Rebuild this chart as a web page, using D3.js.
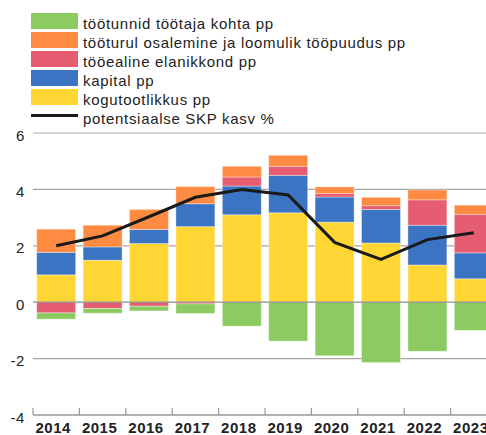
<!DOCTYPE html>
<html>
<head>
<meta charset="utf-8">
<script src="https://cdn.jsdelivr.net/npm/d3@7"></script>
<style>
body { margin: 0; background: #fff; overflow: hidden; }
svg { display: block; font-family: "Liberation Sans", Arial, Helvetica, sans-serif; }
</style>
</head>
<body>
<script>
// data
var years = ["2014","2015","2016","2017","2018","2019","2020","2021","2022","2023"];
var kogutootlikkus = [0.97, 1.49, 2.08, 2.68, 3.10, 3.17, 2.84, 2.10, 1.32, 0.83];
var kapital        = [0.80, 0.47, 0.50, 0.81, 1.02, 1.33, 0.89, 1.19, 1.41, 0.92];
var tooealine      = [-0.38, -0.22, -0.14, -0.06, 0.32, 0.32, 0.12, 0.13, 0.90, 1.37];
var tooturul       = [0.82, 0.77, 0.71, 0.61, 0.38, 0.39, 0.24, 0.30, 0.35, 0.32];
var tootunnid      = [-0.22, -0.17, -0.17, -0.34, -0.85, -1.38, -1.90, -2.14, -1.74, -1.00];
var potentsiaalne  = [2.00, 2.35, 3.03, 3.72, 4.00, 3.80, 2.12, 1.52, 2.22, 2.46];
var yTicks = [-4, -2, 0, 2, 4, 6];

var w = 486;
var h = 435;

var series = [
	{key: "tootunnid", label: "töötunnid töötaja kohta pp", color: "#8dcb62", values: tootunnid},
	{key: "tooturul", label: "tööturul osalemine ja loomulik tööpuudus pp", color: "#ff8b42", values: tooturul},
	{key: "tooealine", label: "tööealine elanikkond pp", color: "#e65c70", values: tooealine},
	{key: "kapital", label: "kapital pp", color: "#3a74c3", values: kapital},
	{key: "kogutootlikkus", label: "kogutootlikkus pp", color: "#ffd634", values: kogutootlikkus}
];

// table for d3.stack
var table = years.map(function(y, i) {
	var row = {year: y};
	series.forEach(function(s) { row[s.key] = s.values[i]; });
	return row;
});

var colorOf = {};
series.forEach(function(s) { colorOf[s.key] = s.color; });

var stack = d3.stack()
	.keys(["kogutootlikkus", "kapital", "tooealine", "tooturul", "tootunnid"])
	.offset(d3.stackOffsetDiverging);
var stacked = stack(table);

var svg = d3.select("body")
	.append("svg")
	.attr("width", w)
	.attr("height", h);

var x_scale = d3.scaleBand()
	.domain(years)
	.range([33, 497])
	.paddingInner(0.16)
	.paddingOuter(0.08);

var y_scale = d3.scaleLinear()
	.domain([-4, 6])
	.range([415, 133]);

// gridlines
svg.append("g")
	.selectAll("line")
	.data(yTicks.filter(function(d) { return d != -4 && d != 0; }))
	.enter()
	.append("line")
	.attr("x1", 33)
	.attr("x2", w)
	.attr("y1", function(d) { return y_scale(d); })
	.attr("y2", function(d) { return y_scale(d); })
	.attr("stroke", function(d) { return d == 6 ? "#c4c4c4" : "#a6a6a6"; })
	.attr("stroke-width", 1.3);

// y tick labels
svg.append("g")
	.selectAll("text")
	.data(yTicks)
	.enter()
	.append("text")
	.attr("x", 25)
	.attr("y", function(d) { return y_scale(d) + 7.5; })
	.attr("text-anchor", "end")
	.style("font-size", "15px")
	.style("letter-spacing", "0.6px")
	.attr("fill", "#222")
	.text(function(d) { return d; });

// stacked bars
svg.append("g")
	.selectAll("g")
	.data(stacked)
	.enter()
	.append("g")
	.attr("fill", function(d) { return colorOf[d.key]; })
	.selectAll("rect")
	.data(function(d) { return d; })
	.enter()
	.append("rect")
	.attr("x", function(d) { return x_scale(d.data.year); })
	.attr("width", x_scale.bandwidth())
	.attr("y", function(d) { return y_scale(Math.max(d[0], d[1])); })
	.attr("height", function(d) { return Math.abs(y_scale(d[0]) - y_scale(d[1])); })
	.attr("stroke", "rgba(255,255,255,0.45)")
	.attr("stroke-width", 0.8);

// zero line
svg.append("line")
	.attr("x1", 33)
	.attr("x2", w)
	.attr("y1", y_scale(0))
	.attr("y2", y_scale(0))
	.attr("stroke", "#8c8c8c")
	.attr("stroke-width", 1.3);

// potential GDP line
var line = d3.line()
	.x(function(d, i) { return x_scale(years[i]) + x_scale.bandwidth() / 2; })
	.y(function(d) { return y_scale(d); });

svg.append("path")
	.datum(potentsiaalne)
	.attr("d", line)
	.attr("fill", "none")
	.attr("stroke", "#1a1a1a")
	.attr("stroke-width", 3);

// bottom axis
var bottom = svg.append("g");
bottom.append("line")
	.attr("x1", 33)
	.attr("x2", w)
	.attr("y1", y_scale(-4))
	.attr("y2", y_scale(-4))
	.attr("stroke", "#999")
	.attr("stroke-width", 1.3);

bottom.selectAll(".tick")
	.data(years)
	.enter()
	.append("line")
	.attr("x1", function(d) { return x_scale(d) - x_scale.step() * 0.08; })
	.attr("x2", function(d) { return x_scale(d) - x_scale.step() * 0.08; })
	.attr("y1", y_scale(-4) - 7)
	.attr("y2", y_scale(-4))
	.attr("stroke", "#999")
	.attr("stroke-width", 1.2);

bottom.selectAll("text")
	.data(years)
	.enter()
	.append("text")
	.attr("x", function(d) { return x_scale(d) + x_scale.bandwidth() / 2 - 3; })
	.attr("y", 433)
	.attr("text-anchor", "middle")
	.style("font-size", "15px")
	.style("font-weight", "bold")
	.style("letter-spacing", "0.5px")
	.attr("fill", "#222")
	.text(function(d) { return d; });

// legend
var legend = svg.append("g")
	.style("letter-spacing", "0.7px");
series.forEach(function(s, i) {
	var top = 13 + i * 19;
	legend.append("rect")
		.attr("x", 31)
		.attr("y", top)
		.attr("width", 47)
		.attr("height", 16)
		.attr("fill", s.color);
	legend.append("text")
		.attr("x", 83)
		.attr("y", top + 15.5)
		.style("font-size", "15px")
		.attr("fill", "#222")
		.text(s.label);
});
legend.append("line")
	.attr("x1", 31)
	.attr("x2", 78)
	.attr("y1", 115.5)
	.attr("y2", 115.5)
	.attr("stroke", "#1a1a1a")
	.attr("stroke-width", 3);
legend.append("text")
	.attr("x", 83)
	.attr("y", 123.5)
	.style("font-size", "15px")
	.attr("fill", "#222")
	.text("potentsiaalse SKP kasv %");
</script>
</body>
</html>
